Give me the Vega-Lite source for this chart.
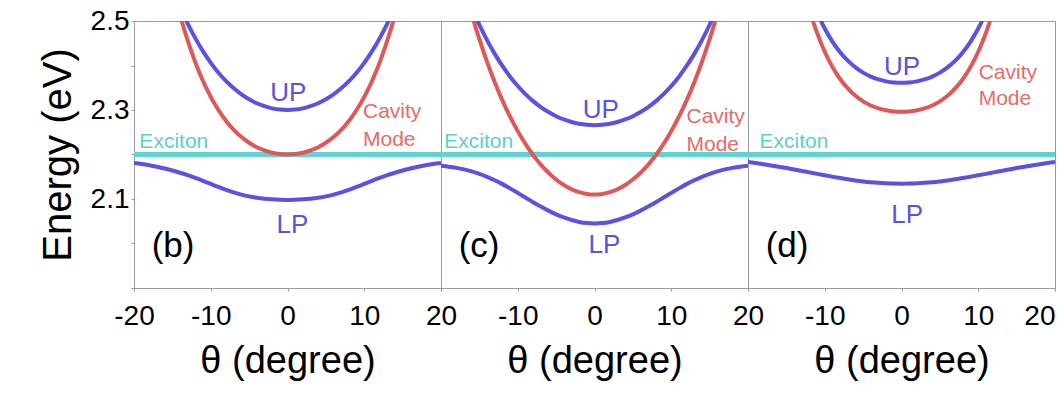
{
"$schema":"https://vega.github.io/schema/vega-lite/v6.json",
"autosize":{"type":"pad"},
"padding":{"left":37,"top":6,"right":0,"bottom":0},
"background":"#ffffff",
"datasets":{
"curves":[
{"p":"b","c":"Exciton","t":-20,"E":2.2},{"p":"b","c":"Exciton","t":20,"E":2.2},
{"p":"c","c":"Exciton","t":-20,"E":2.2},{"p":"c","c":"Exciton","t":20,"E":2.2},
{"p":"d","c":"Exciton","t":-20,"E":2.2},{"p":"d","c":"Exciton","t":20,"E":2.2},
{"p":"b","c":"Cavity","t":-15,"E":2.5803},{"p":"b","c":"Cavity","t":-14,"E":2.5133},{"p":"b","c":"Cavity","t":-13,"E":2.4557},{"p":"b","c":"Cavity","t":-12,"E":2.4064},{"p":"b","c":"Cavity","t":-11,"E":2.3646},{"p":"b","c":"Cavity","t":-10,"E":2.3294},{"p":"b","c":"Cavity","t":-9,"E":2.2999},{"p":"b","c":"Cavity","t":-8,"E":2.2755},{"p":"b","c":"Cavity","t":-7,"E":2.2555},{"p":"b","c":"Cavity","t":-6,"E":2.2393},{"p":"b","c":"Cavity","t":-5,"E":2.2264},{"p":"b","c":"Cavity","t":-4,"E":2.2164},{"p":"b","c":"Cavity","t":-3,"E":2.2091},{"p":"b","c":"Cavity","t":-2,"E":2.2040},{"p":"b","c":"Cavity","t":-1,"E":2.2010},{"p":"b","c":"Cavity","t":0,"E":2.2000},{"p":"b","c":"Cavity","t":1,"E":2.2010},{"p":"b","c":"Cavity","t":2,"E":2.2040},{"p":"b","c":"Cavity","t":3,"E":2.2091},{"p":"b","c":"Cavity","t":4,"E":2.2164},{"p":"b","c":"Cavity","t":5,"E":2.2264},{"p":"b","c":"Cavity","t":6,"E":2.2393},{"p":"b","c":"Cavity","t":7,"E":2.2555},{"p":"b","c":"Cavity","t":8,"E":2.2755},{"p":"b","c":"Cavity","t":9,"E":2.2999},{"p":"b","c":"Cavity","t":10,"E":2.3294},{"p":"b","c":"Cavity","t":11,"E":2.3646},{"p":"b","c":"Cavity","t":12,"E":2.4064},{"p":"b","c":"Cavity","t":13,"E":2.4557},{"p":"b","c":"Cavity","t":14,"E":2.5133},{"p":"b","c":"Cavity","t":15,"E":2.5803},
{"p":"b","c":"UP","t":-15,"E":2.5751},{"p":"b","c":"UP","t":-14,"E":2.5322},{"p":"b","c":"UP","t":-13,"E":2.4943},{"p":"b","c":"UP","t":-12,"E":2.4609},{"p":"b","c":"UP","t":-11,"E":2.4316},{"p":"b","c":"UP","t":-10,"E":2.4060},{"p":"b","c":"UP","t":-9,"E":2.3839},{"p":"b","c":"UP","t":-8,"E":2.3649},{"p":"b","c":"UP","t":-7,"E":2.3487},{"p":"b","c":"UP","t":-6,"E":2.3352},{"p":"b","c":"UP","t":-5,"E":2.3241},{"p":"b","c":"UP","t":-4,"E":2.3152},{"p":"b","c":"UP","t":-3,"E":2.3085},{"p":"b","c":"UP","t":-2,"E":2.3037},{"p":"b","c":"UP","t":-1,"E":2.3009},{"p":"b","c":"UP","t":0,"E":2.3000},{"p":"b","c":"UP","t":1,"E":2.3009},{"p":"b","c":"UP","t":2,"E":2.3037},{"p":"b","c":"UP","t":3,"E":2.3085},{"p":"b","c":"UP","t":4,"E":2.3152},{"p":"b","c":"UP","t":5,"E":2.3241},{"p":"b","c":"UP","t":6,"E":2.3352},{"p":"b","c":"UP","t":7,"E":2.3487},{"p":"b","c":"UP","t":8,"E":2.3649},{"p":"b","c":"UP","t":9,"E":2.3839},{"p":"b","c":"UP","t":10,"E":2.4060},{"p":"b","c":"UP","t":11,"E":2.4316},{"p":"b","c":"UP","t":12,"E":2.4609},{"p":"b","c":"UP","t":13,"E":2.4943},{"p":"b","c":"UP","t":14,"E":2.5322},{"p":"b","c":"UP","t":15,"E":2.5751},
{"p":"b","c":"LP","t":-20,"E":2.1812},{"p":"b","c":"LP","t":-19,"E":2.1788},{"p":"b","c":"LP","t":-18,"E":2.1758},{"p":"b","c":"LP","t":-17,"E":2.1723},{"p":"b","c":"LP","t":-16,"E":2.1684},{"p":"b","c":"LP","t":-15,"E":2.1640},{"p":"b","c":"LP","t":-14,"E":2.1590},{"p":"b","c":"LP","t":-13,"E":2.1535},{"p":"b","c":"LP","t":-12,"E":2.1473},{"p":"b","c":"LP","t":-11,"E":2.1407},{"p":"b","c":"LP","t":-10,"E":2.1338},{"p":"b","c":"LP","t":-9,"E":2.1270},{"p":"b","c":"LP","t":-8,"E":2.1206},{"p":"b","c":"LP","t":-7,"E":2.1149},{"p":"b","c":"LP","t":-6,"E":2.1099},{"p":"b","c":"LP","t":-5,"E":2.1059},{"p":"b","c":"LP","t":-4,"E":2.1029},{"p":"b","c":"LP","t":-3,"E":2.1007},{"p":"b","c":"LP","t":-2,"E":2.0992},{"p":"b","c":"LP","t":-1,"E":2.0983},{"p":"b","c":"LP","t":0,"E":2.0980},{"p":"b","c":"LP","t":1,"E":2.0983},{"p":"b","c":"LP","t":2,"E":2.0992},{"p":"b","c":"LP","t":3,"E":2.1007},{"p":"b","c":"LP","t":4,"E":2.1029},{"p":"b","c":"LP","t":5,"E":2.1059},{"p":"b","c":"LP","t":6,"E":2.1099},{"p":"b","c":"LP","t":7,"E":2.1149},{"p":"b","c":"LP","t":8,"E":2.1206},{"p":"b","c":"LP","t":9,"E":2.1270},{"p":"b","c":"LP","t":10,"E":2.1338},{"p":"b","c":"LP","t":11,"E":2.1407},{"p":"b","c":"LP","t":12,"E":2.1473},{"p":"b","c":"LP","t":13,"E":2.1535},{"p":"b","c":"LP","t":14,"E":2.1590},{"p":"b","c":"LP","t":15,"E":2.1640},{"p":"b","c":"LP","t":16,"E":2.1684},{"p":"b","c":"LP","t":17,"E":2.1723},{"p":"b","c":"LP","t":18,"E":2.1758},{"p":"b","c":"LP","t":19,"E":2.1788},{"p":"b","c":"LP","t":20,"E":2.1812},
{"p":"c","c":"Cavity","t":-17,"E":2.5771},{"p":"c","c":"Cavity","t":-16,"E":2.5152},{"p":"c","c":"Cavity","t":-15,"E":2.4591},{"p":"c","c":"Cavity","t":-14,"E":2.4083},{"p":"c","c":"Cavity","t":-13,"E":2.3626},{"p":"c","c":"Cavity","t":-12,"E":2.3216},{"p":"c","c":"Cavity","t":-11,"E":2.2849},{"p":"c","c":"Cavity","t":-10,"E":2.2525},{"p":"c","c":"Cavity","t":-9,"E":2.2238},{"p":"c","c":"Cavity","t":-8,"E":2.1988},{"p":"c","c":"Cavity","t":-7,"E":2.1773},{"p":"c","c":"Cavity","t":-6,"E":2.1589},{"p":"c","c":"Cavity","t":-5,"E":2.1437},{"p":"c","c":"Cavity","t":-4,"E":2.1314},{"p":"c","c":"Cavity","t":-3,"E":2.1220},{"p":"c","c":"Cavity","t":-2,"E":2.1153},{"p":"c","c":"Cavity","t":-1,"E":2.1113},{"p":"c","c":"Cavity","t":0,"E":2.1100},{"p":"c","c":"Cavity","t":1,"E":2.1113},{"p":"c","c":"Cavity","t":2,"E":2.1153},{"p":"c","c":"Cavity","t":3,"E":2.1220},{"p":"c","c":"Cavity","t":4,"E":2.1314},{"p":"c","c":"Cavity","t":5,"E":2.1437},{"p":"c","c":"Cavity","t":6,"E":2.1589},{"p":"c","c":"Cavity","t":7,"E":2.1773},{"p":"c","c":"Cavity","t":8,"E":2.1988},{"p":"c","c":"Cavity","t":9,"E":2.2238},{"p":"c","c":"Cavity","t":10,"E":2.2525},{"p":"c","c":"Cavity","t":11,"E":2.2849},{"p":"c","c":"Cavity","t":12,"E":2.3216},{"p":"c","c":"Cavity","t":13,"E":2.3626},{"p":"c","c":"Cavity","t":14,"E":2.4083},{"p":"c","c":"Cavity","t":15,"E":2.4591},{"p":"c","c":"Cavity","t":16,"E":2.5152},{"p":"c","c":"Cavity","t":17,"E":2.5771},
{"p":"c","c":"UP","t":-17,"E":2.5741},{"p":"c","c":"UP","t":-16,"E":2.5306},{"p":"c","c":"UP","t":-15,"E":2.4916},{"p":"c","c":"UP","t":-14,"E":2.4569},{"p":"c","c":"UP","t":-13,"E":2.4261},{"p":"c","c":"UP","t":-12,"E":2.3989},{"p":"c","c":"UP","t":-11,"E":2.3749},{"p":"c","c":"UP","t":-10,"E":2.3539},{"p":"c","c":"UP","t":-9,"E":2.3357},{"p":"c","c":"UP","t":-8,"E":2.3200},{"p":"c","c":"UP","t":-7,"E":2.3066},{"p":"c","c":"UP","t":-6,"E":2.2954},{"p":"c","c":"UP","t":-5,"E":2.2861},{"p":"c","c":"UP","t":-4,"E":2.2787},{"p":"c","c":"UP","t":-3,"E":2.2731},{"p":"c","c":"UP","t":-2,"E":2.2691},{"p":"c","c":"UP","t":-1,"E":2.2668},{"p":"c","c":"UP","t":0,"E":2.2660},{"p":"c","c":"UP","t":1,"E":2.2668},{"p":"c","c":"UP","t":2,"E":2.2691},{"p":"c","c":"UP","t":3,"E":2.2731},{"p":"c","c":"UP","t":4,"E":2.2787},{"p":"c","c":"UP","t":5,"E":2.2861},{"p":"c","c":"UP","t":6,"E":2.2954},{"p":"c","c":"UP","t":7,"E":2.3066},{"p":"c","c":"UP","t":8,"E":2.3200},{"p":"c","c":"UP","t":9,"E":2.3357},{"p":"c","c":"UP","t":10,"E":2.3539},{"p":"c","c":"UP","t":11,"E":2.3749},{"p":"c","c":"UP","t":12,"E":2.3989},{"p":"c","c":"UP","t":13,"E":2.4261},{"p":"c","c":"UP","t":14,"E":2.4569},{"p":"c","c":"UP","t":15,"E":2.4916},{"p":"c","c":"UP","t":16,"E":2.5306},{"p":"c","c":"UP","t":17,"E":2.5741},
{"p":"c","c":"LP","t":-20,"E":2.1745},{"p":"c","c":"LP","t":-19,"E":2.1726},{"p":"c","c":"LP","t":-18,"E":2.1700},{"p":"c","c":"LP","t":-17,"E":2.1665},{"p":"c","c":"LP","t":-16,"E":2.1620},{"p":"c","c":"LP","t":-15,"E":2.1565},{"p":"c","c":"LP","t":-14,"E":2.1498},{"p":"c","c":"LP","t":-13,"E":2.1421},{"p":"c","c":"LP","t":-12,"E":2.1334},{"p":"c","c":"LP","t":-11,"E":2.1239},{"p":"c","c":"LP","t":-10,"E":2.1137},{"p":"c","c":"LP","t":-9,"E":2.1033},{"p":"c","c":"LP","t":-8,"E":2.0929},{"p":"c","c":"LP","t":-7,"E":2.0830},{"p":"c","c":"LP","t":-6,"E":2.0738},{"p":"c","c":"LP","t":-5,"E":2.0656},{"p":"c","c":"LP","t":-4,"E":2.0585},{"p":"c","c":"LP","t":-3,"E":2.0528},{"p":"c","c":"LP","t":-2,"E":2.0485},{"p":"c","c":"LP","t":-1,"E":2.0459},{"p":"c","c":"LP","t":0,"E":2.0450},{"p":"c","c":"LP","t":1,"E":2.0459},{"p":"c","c":"LP","t":2,"E":2.0485},{"p":"c","c":"LP","t":3,"E":2.0528},{"p":"c","c":"LP","t":4,"E":2.0585},{"p":"c","c":"LP","t":5,"E":2.0656},{"p":"c","c":"LP","t":6,"E":2.0738},{"p":"c","c":"LP","t":7,"E":2.0830},{"p":"c","c":"LP","t":8,"E":2.0929},{"p":"c","c":"LP","t":9,"E":2.1033},{"p":"c","c":"LP","t":10,"E":2.1137},{"p":"c","c":"LP","t":11,"E":2.1239},{"p":"c","c":"LP","t":12,"E":2.1334},{"p":"c","c":"LP","t":13,"E":2.1421},{"p":"c","c":"LP","t":14,"E":2.1498},{"p":"c","c":"LP","t":15,"E":2.1565},{"p":"c","c":"LP","t":16,"E":2.1620},{"p":"c","c":"LP","t":17,"E":2.1665},{"p":"c","c":"LP","t":18,"E":2.1700},{"p":"c","c":"LP","t":19,"E":2.1726},{"p":"c","c":"LP","t":20,"E":2.1745},
{"p":"d","c":"Cavity","t":-13,"E":2.5883},{"p":"d","c":"Cavity","t":-12,"E":2.5252},{"p":"d","c":"Cavity","t":-11,"E":2.4733},{"p":"d","c":"Cavity","t":-10,"E":2.4310},{"p":"d","c":"Cavity","t":-9,"E":2.3969},{"p":"d","c":"Cavity","t":-8,"E":2.3697},{"p":"d","c":"Cavity","t":-7,"E":2.3484},{"p":"d","c":"Cavity","t":-6,"E":2.3319},{"p":"d","c":"Cavity","t":-5,"E":2.3194},{"p":"d","c":"Cavity","t":-4,"E":2.3102},{"p":"d","c":"Cavity","t":-3,"E":2.3036},{"p":"d","c":"Cavity","t":-2,"E":2.2993},{"p":"d","c":"Cavity","t":-1,"E":2.2968},{"p":"d","c":"Cavity","t":0,"E":2.2960},{"p":"d","c":"Cavity","t":1,"E":2.2968},{"p":"d","c":"Cavity","t":2,"E":2.2993},{"p":"d","c":"Cavity","t":3,"E":2.3036},{"p":"d","c":"Cavity","t":4,"E":2.3102},{"p":"d","c":"Cavity","t":5,"E":2.3194},{"p":"d","c":"Cavity","t":6,"E":2.3319},{"p":"d","c":"Cavity","t":7,"E":2.3484},{"p":"d","c":"Cavity","t":8,"E":2.3697},{"p":"d","c":"Cavity","t":9,"E":2.3969},{"p":"d","c":"Cavity","t":10,"E":2.4310},{"p":"d","c":"Cavity","t":11,"E":2.4733},{"p":"d","c":"Cavity","t":12,"E":2.5252},{"p":"d","c":"Cavity","t":13,"E":2.5883},
{"p":"d","c":"UP","t":-12,"E":2.5625},{"p":"d","c":"UP","t":-11,"E":2.5191},{"p":"d","c":"UP","t":-10,"E":2.4832},{"p":"d","c":"UP","t":-9,"E":2.4538},{"p":"d","c":"UP","t":-8,"E":2.4299},{"p":"d","c":"UP","t":-7,"E":2.4108},{"p":"d","c":"UP","t":-6,"E":2.3957},{"p":"d","c":"UP","t":-5,"E":2.3840},{"p":"d","c":"UP","t":-4,"E":2.3751},{"p":"d","c":"UP","t":-3,"E":2.3687},{"p":"d","c":"UP","t":-2,"E":2.3643},{"p":"d","c":"UP","t":-1,"E":2.3618},{"p":"d","c":"UP","t":0,"E":2.3610},{"p":"d","c":"UP","t":1,"E":2.3618},{"p":"d","c":"UP","t":2,"E":2.3643},{"p":"d","c":"UP","t":3,"E":2.3687},{"p":"d","c":"UP","t":4,"E":2.3751},{"p":"d","c":"UP","t":5,"E":2.3840},{"p":"d","c":"UP","t":6,"E":2.3957},{"p":"d","c":"UP","t":7,"E":2.4108},{"p":"d","c":"UP","t":8,"E":2.4299},{"p":"d","c":"UP","t":9,"E":2.4538},{"p":"d","c":"UP","t":10,"E":2.4832},{"p":"d","c":"UP","t":11,"E":2.5191},{"p":"d","c":"UP","t":12,"E":2.5625},
{"p":"d","c":"LP","t":-20,"E":2.1831},{"p":"d","c":"LP","t":-19,"E":2.1808},{"p":"d","c":"LP","t":-18,"E":2.1782},{"p":"d","c":"LP","t":-17,"E":2.1754},{"p":"d","c":"LP","t":-16,"E":2.1725},{"p":"d","c":"LP","t":-15,"E":2.1695},{"p":"d","c":"LP","t":-14,"E":2.1663},{"p":"d","c":"LP","t":-13,"E":2.1631},{"p":"d","c":"LP","t":-12,"E":2.1598},{"p":"d","c":"LP","t":-11,"E":2.1565},{"p":"d","c":"LP","t":-10,"E":2.1533},{"p":"d","c":"LP","t":-9,"E":2.1502},{"p":"d","c":"LP","t":-8,"E":2.1471},{"p":"d","c":"LP","t":-7,"E":2.1443},{"p":"d","c":"LP","t":-6,"E":2.1417},{"p":"d","c":"LP","t":-5,"E":2.1395},{"p":"d","c":"LP","t":-4,"E":2.1377},{"p":"d","c":"LP","t":-3,"E":2.1363},{"p":"d","c":"LP","t":-2,"E":2.1353},{"p":"d","c":"LP","t":-1,"E":2.1347},{"p":"d","c":"LP","t":0,"E":2.1345},{"p":"d","c":"LP","t":1,"E":2.1347},{"p":"d","c":"LP","t":2,"E":2.1353},{"p":"d","c":"LP","t":3,"E":2.1363},{"p":"d","c":"LP","t":4,"E":2.1377},{"p":"d","c":"LP","t":5,"E":2.1395},{"p":"d","c":"LP","t":6,"E":2.1417},{"p":"d","c":"LP","t":7,"E":2.1443},{"p":"d","c":"LP","t":8,"E":2.1471},{"p":"d","c":"LP","t":9,"E":2.1502},{"p":"d","c":"LP","t":10,"E":2.1533},{"p":"d","c":"LP","t":11,"E":2.1565},{"p":"d","c":"LP","t":12,"E":2.1598},{"p":"d","c":"LP","t":13,"E":2.1631},{"p":"d","c":"LP","t":14,"E":2.1663},{"p":"d","c":"LP","t":15,"E":2.1695},{"p":"d","c":"LP","t":16,"E":2.1725},{"p":"d","c":"LP","t":17,"E":2.1754},{"p":"d","c":"LP","t":18,"E":2.1782},{"p":"d","c":"LP","t":19,"E":2.1808},{"p":"d","c":"LP","t":20,"E":2.1831}
],
"labels":[
{"p":"b","k":"pl","t":-17.7,"E":1.97,"txt":"(b)"},
{"p":"c","k":"pl","t":-17.7,"E":1.97,"txt":"(c)"},
{"p":"d","k":"pl","t":-17.7,"E":1.97,"txt":"(d)"},
{"p":"b","k":"pol","t":0.1,"E":2.32,"txt":"UP"},
{"p":"b","k":"pol","t":0.65,"E":2.0236,"txt":"LP"},
{"p":"c","k":"pol","t":0.81,"E":2.2827,"txt":"UP"},
{"p":"c","k":"pol","t":1.28,"E":1.9794,"txt":"LP"},
{"p":"d","k":"pol","t":0.08,"E":2.3787,"txt":"UP"},
{"p":"d","k":"pol","t":0.73,"E":2.0467,"txt":"LP"},
{"p":"b","k":"cav","t":9.84,"E":2.2827,"txt":"Cavity"},
{"p":"b","k":"cav","t":9.84,"E":2.219,"txt":"Mode"},
{"p":"c","k":"cav","t":11.99,"E":2.2715,"txt":"Cavity"},
{"p":"c","k":"cav","t":11.99,"E":2.2079,"txt":"Mode"},
{"p":"d","k":"cav","t":10.05,"E":2.369,"txt":"Cavity"},
{"p":"d","k":"cav","t":10.05,"E":2.3106,"txt":"Mode"},
{"p":"b","k":"exc","t":-19.3,"E":2.2153,"txt":"Exciton"},
{"p":"c","k":"exc","t":-19.57,"E":2.2153,"txt":"Exciton"},
{"p":"d","k":"exc","t":-18.49,"E":2.2153,"txt":"Exciton"}
]
},
"hconcat":[
{
"width":307,"height":267,
"encoding":{
"x":{"field":"t","type":"quantitative","scale":{"domain":[-20,20],"nice":false,"zero":false},
"axis":{"values":[-20,-10,0,10,20],"labelExpr":"'' + datum.value","title":"θ (degree)","labelFontSize":28,"labelPadding":11,"titleFontSize":38,"titlePadding":12}},
"y":{"field":"E","type":"quantitative","scale":{"domain":[1.9,2.5],"nice":false,"zero":false},
"axis":{"values":[1.9,2.0,2.1,2.2,2.3,2.4,2.5],"labelExpr":"(datum.value > 2.05 && datum.value < 2.15) || (datum.value > 2.25 && datum.value < 2.35) || datum.value > 2.45 ? format(datum.value, '.1f') : ''","title":"Energy (eV)","labelFontSize":28,"labelPadding":2,"titleFontSize":40,"titlePadding":15,"minExtent":41,"maxExtent":41}}
},
"layer":[
{"data":{"name":"curves"},"transform":[{"filter":"datum.p=='b' && datum.c=='Exciton'"}],"mark":{"type":"line","color":"#5ed3cf","strokeWidth":5,"clip":true}},
{"data":{"name":"curves"},"transform":[{"filter":"datum.p=='b' && datum.c!='Exciton'"}],"mark":{"type":"line","strokeWidth":4,"interpolate":"monotone","clip":true},
"encoding":{"color":{"field":"c","type":"nominal","scale":{"domain":["UP","LP","Cavity"],"range":["#5b52e3","#5b52e3","#df5858"]},"legend":null}}},
{"data":{"name":"labels"},"transform":[{"filter":"datum.p=='b' && datum.k=='pl'"}],"mark":{"type":"text","align":"left","baseline":"alphabetic","fontSize":35,"color":"#000000"},"encoding":{"text":{"field":"txt"}}},
{"data":{"name":"labels"},"transform":[{"filter":"datum.p=='b' && datum.k=='pol'"}],"mark":{"type":"text","align":"center","baseline":"alphabetic","fontSize":26,"color":"#5b52e3"},"encoding":{"text":{"field":"txt"}}},
{"data":{"name":"labels"},"transform":[{"filter":"datum.p=='b' && datum.k=='cav'"}],"mark":{"type":"text","align":"left","baseline":"alphabetic","fontSize":21,"color":"#e86a66"},"encoding":{"text":{"field":"txt"}}},
{"data":{"name":"labels"},"transform":[{"filter":"datum.p=='b' && datum.k=='exc'"}],"mark":{"type":"text","align":"left","baseline":"alphabetic","fontSize":21,"color":"#5ccfcb"},"encoding":{"text":{"field":"txt"}}}
]
},
{
"width":307,"height":267,
"encoding":{
"x":{"field":"t","type":"quantitative","scale":{"domain":[-20,20],"nice":false,"zero":false},
"axis":{"values":[-20,-10,0,10,20],"labelExpr":"datum.value == -20 ? '' : '' + datum.value","title":"θ (degree)","labelFontSize":28,"labelPadding":11,"titleFontSize":38,"titlePadding":12}},
"y":{"field":"E","type":"quantitative","scale":{"domain":[1.9,2.5],"nice":false,"zero":false},"axis":null}
},
"layer":[
{"data":{"name":"curves"},"transform":[{"filter":"datum.p=='c' && datum.c=='Exciton'"}],"mark":{"type":"line","color":"#5ed3cf","strokeWidth":5,"clip":true}},
{"data":{"name":"curves"},"transform":[{"filter":"datum.p=='c' && datum.c!='Exciton'"}],"mark":{"type":"line","strokeWidth":4,"interpolate":"monotone","clip":true},
"encoding":{"color":{"field":"c","type":"nominal","scale":{"domain":["UP","LP","Cavity"],"range":["#5b52e3","#5b52e3","#df5858"]},"legend":null}}},
{"data":{"name":"labels"},"transform":[{"filter":"datum.p=='c' && datum.k=='pl'"}],"mark":{"type":"text","align":"left","baseline":"alphabetic","fontSize":35,"color":"#000000"},"encoding":{"text":{"field":"txt"}}},
{"data":{"name":"labels"},"transform":[{"filter":"datum.p=='c' && datum.k=='pol'"}],"mark":{"type":"text","align":"center","baseline":"alphabetic","fontSize":26,"color":"#5b52e3"},"encoding":{"text":{"field":"txt"}}},
{"data":{"name":"labels"},"transform":[{"filter":"datum.p=='c' && datum.k=='cav'"}],"mark":{"type":"text","align":"left","baseline":"alphabetic","fontSize":21,"color":"#e86a66"},"encoding":{"text":{"field":"txt"}}},
{"data":{"name":"labels"},"transform":[{"filter":"datum.p=='c' && datum.k=='exc'"}],"mark":{"type":"text","align":"left","baseline":"alphabetic","fontSize":21,"color":"#5ccfcb"},"encoding":{"text":{"field":"txt"}}}
]
},
{
"width":307,"height":267,
"encoding":{
"x":{"field":"t","type":"quantitative","scale":{"domain":[-20,20],"nice":false,"zero":false},
"axis":{"values":[-20,-10,0,10,20],"labelExpr":"datum.value == -20 ? '' : '' + datum.value","labelFlush":true,"title":"θ (degree)","labelFontSize":28,"labelPadding":11,"titleFontSize":38,"titlePadding":12}},
"y":{"field":"E","type":"quantitative","scale":{"domain":[1.9,2.5],"nice":false,"zero":false},"axis":null}
},
"layer":[
{"data":{"name":"curves"},"transform":[{"filter":"datum.p=='d' && datum.c=='Exciton'"}],"mark":{"type":"line","color":"#5ed3cf","strokeWidth":5,"clip":true}},
{"data":{"name":"curves"},"transform":[{"filter":"datum.p=='d' && datum.c!='Exciton'"}],"mark":{"type":"line","strokeWidth":4,"interpolate":"monotone","clip":true},
"encoding":{"color":{"field":"c","type":"nominal","scale":{"domain":["UP","LP","Cavity"],"range":["#5b52e3","#5b52e3","#df5858"]},"legend":null}}},
{"data":{"name":"labels"},"transform":[{"filter":"datum.p=='d' && datum.k=='pl'"}],"mark":{"type":"text","align":"left","baseline":"alphabetic","fontSize":35,"color":"#000000"},"encoding":{"text":{"field":"txt"}}},
{"data":{"name":"labels"},"transform":[{"filter":"datum.p=='d' && datum.k=='pol'"}],"mark":{"type":"text","align":"center","baseline":"alphabetic","fontSize":26,"color":"#5b52e3"},"encoding":{"text":{"field":"txt"}}},
{"data":{"name":"labels"},"transform":[{"filter":"datum.p=='d' && datum.k=='cav'"}],"mark":{"type":"text","align":"left","baseline":"alphabetic","fontSize":21,"color":"#e86a66"},"encoding":{"text":{"field":"txt"}}},
{"data":{"name":"labels"},"transform":[{"filter":"datum.p=='d' && datum.k=='exc'"}],"mark":{"type":"text","align":"left","baseline":"alphabetic","fontSize":21,"color":"#5ccfcb"},"encoding":{"text":{"field":"txt"}}}
]
}
],
"spacing":0,
"bounds":"flush",
"resolve":{"scale":{"color":"shared"}},
"config":{
"font":"Liberation Sans",
"view":{"stroke":"#9a9a9a","strokeWidth":1},
"axis":{"grid":false,"domain":false,"tickColor":"#9a9a9a","tickSize":3,"labelFont":"Liberation Sans","titleFont":"Liberation Sans","labelColor":"#000000","titleColor":"#000000","titleFontWeight":"normal","labelFlush":false,"labelOverlap":false,"labelBound":false},
"text":{"font":"Liberation Sans"}
}
}
